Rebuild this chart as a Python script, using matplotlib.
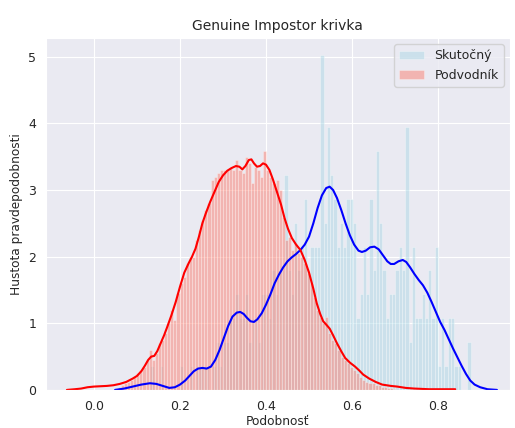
import numpy as np
import matplotlib
matplotlib.use("Agg")
import matplotlib.pyplot as plt
import seaborn as sns

# histogram of impostor (Podvodník) similarities, density per bin
red_start = 0.055
red_width = 0.0072
red_heights = [0.05, 0.08, 0.10, 0.12, 0.15, 0.20, 0.25, 0.30, 0.35, 0.45,
               0.60, 0.45, 0.55, 0.70, 0.75, 0.85, 1.00, 1.20, 1.05, 1.45,
               1.60, 1.70, 1.90, 2.00, 2.00, 2.25, 2.40, 2.55, 2.70, 2.80,
               3.15, 3.20, 3.25, 3.30, 3.30, 3.30, 3.35, 3.30, 3.45, 3.30,
               3.25, 3.50, 3.40, 3.10, 3.35, 3.30, 3.20, 3.58, 3.30, 3.20,
               3.10, 3.15, 3.00, 2.60, 2.25, 2.30, 2.10, 2.20, 2.05, 2.00,
               1.90, 1.75, 1.60, 1.40, 1.20, 1.10, 1.00, 1.10, 0.85, 0.75,
               0.70, 0.60, 0.50, 0.45, 0.40, 0.35, 0.30, 0.25, 0.20, 0.15,
               0.12, 0.10, 0.10, 0.08, 0.07, 0.05, 0.05, 0.03, 0.03, 0.02]

# histogram of genuine (Skutočný) similarities, counts per bin
blue_start = 0.131
blue_width = 0.0076
blue_n = 367
blue_counts = [1, 0, 0, 1, 0, 0, 0, 0, 0, 1,
               0, 0, 1, 0, 1, 1, 1, 1, 0, 1,
               2, 1, 2, 2, 3, 3, 4, 3, 3, 4,
               2, 3, 3, 2, 4, 4, 3, 5, 4, 5,
               5, 9, 5, 4, 7, 5, 6, 8, 5, 6,
               6, 6, 14, 7, 11, 9, 8, 6, 7, 6,
               8, 8, 7, 3, 4, 6, 4, 8, 5, 10,
               7, 5, 3, 4, 4, 5, 6, 5, 11, 2,
               6, 3, 3, 4, 3, 5, 3, 6, 1, 3,
               1, 3, 3, 1, 1, 0, 0, 2]

# kde curves
red_kde_x = [-0.063, -0.045, -0.030, -0.015, 0.0, 0.015, 0.030, 0.045, 0.060, 0.075,
             0.090, 0.100, 0.110, 0.118, 0.126, 0.133, 0.140, 0.147, 0.155, 0.163,
             0.170, 0.180, 0.190, 0.200, 0.210, 0.220, 0.228, 0.236, 0.244, 0.252,
             0.260, 0.270, 0.280, 0.290, 0.300, 0.310, 0.320, 0.330, 0.338, 0.345,
             0.352, 0.360, 0.366, 0.372, 0.379, 0.386, 0.393, 0.400, 0.408, 0.416,
             0.425, 0.435, 0.443, 0.451, 0.460, 0.470, 0.480, 0.490, 0.500, 0.510,
             0.518, 0.526, 0.533, 0.540, 0.548, 0.556, 0.565, 0.575, 0.584, 0.595,
             0.607, 0.617, 0.626, 0.640, 0.655, 0.670, 0.690, 0.705, 0.725, 0.745,
             0.780, 0.840]
red_kde_y = [0.0, 0.01, 0.02, 0.04, 0.05, 0.055, 0.06, 0.07, 0.09, 0.12,
             0.17, 0.21, 0.28, 0.36, 0.45, 0.50, 0.51, 0.58, 0.70, 0.82,
             0.94, 1.12, 1.32, 1.55, 1.76, 1.90, 2.00, 2.12, 2.30, 2.50,
             2.65, 2.82, 2.97, 3.12, 3.22, 3.29, 3.33, 3.36, 3.35, 3.31,
             3.36, 3.45, 3.46, 3.40, 3.35, 3.36, 3.40, 3.38, 3.30, 3.16,
             2.98, 2.78, 2.58, 2.42, 2.28, 2.18, 2.10, 1.95, 1.76, 1.52,
             1.30, 1.14, 1.03, 0.98, 0.92, 0.82, 0.70, 0.58, 0.48, 0.41,
             0.35, 0.29, 0.23, 0.17, 0.12, 0.08, 0.06, 0.05, 0.03, 0.02,
             0.01, 0.01]

blue_kde_x = [0.049, 0.070, 0.090, 0.110, 0.130, 0.145, 0.160, 0.175, 0.188, 0.200,
              0.212, 0.222, 0.232, 0.242, 0.252, 0.262, 0.272, 0.282, 0.292, 0.302,
              0.312, 0.322, 0.332, 0.340, 0.348, 0.356, 0.364, 0.372, 0.380, 0.390,
              0.400, 0.410, 0.420, 0.430, 0.440, 0.450, 0.460, 0.470, 0.480, 0.490,
              0.500, 0.510, 0.520, 0.530, 0.540, 0.548, 0.556, 0.565, 0.575, 0.585,
              0.595, 0.605, 0.615, 0.623, 0.632, 0.642, 0.652, 0.662, 0.672, 0.682,
              0.690, 0.698, 0.708, 0.718, 0.726, 0.735, 0.745, 0.755, 0.765, 0.775,
              0.785, 0.795, 0.805, 0.815, 0.825, 0.835, 0.845, 0.855, 0.865, 0.875,
              0.885, 0.898, 0.915, 0.937]
blue_kde_y = [0.0, 0.02, 0.05, 0.08, 0.10, 0.09, 0.06, 0.03, 0.04, 0.08,
              0.14, 0.21, 0.28, 0.32, 0.33, 0.32, 0.35, 0.45, 0.60, 0.78,
              0.96, 1.10, 1.16, 1.17, 1.14, 1.08, 1.03, 1.02, 1.06, 1.15,
              1.28, 1.43, 1.60, 1.73, 1.84, 1.93, 1.99, 2.04, 2.10, 2.18,
              2.30, 2.50, 2.73, 2.92, 3.03, 3.05, 3.00, 2.88, 2.70, 2.50,
              2.32, 2.18, 2.09, 2.07, 2.09, 2.14, 2.15, 2.11, 2.02, 1.93,
              1.89, 1.89, 1.93, 1.95, 1.92, 1.84, 1.74, 1.65, 1.57, 1.46,
              1.32, 1.17, 1.02, 0.90, 0.76, 0.62, 0.49, 0.36, 0.24, 0.14,
              0.08, 0.04, 0.01, 0.0]

sns.set_style("darkgrid")

fig = plt.figure(figsize=(5.15, 4.28), dpi=100)
ax = fig.add_axes([0.089, 0.089, 0.901, 0.822])

blue_left = blue_start + blue_width * np.arange(len(blue_counts))
blue_heights = np.array(blue_counts) / (blue_n * blue_width)
ax.bar(blue_left, blue_heights, width=blue_width, align='edge',
       color='lightblue', alpha=0.5, edgecolor='white', linewidth=0.4,
       label='Skutočný')
ax.plot(blue_kde_x, blue_kde_y, color='blue', lw=1.5)

red_left = red_start + red_width * np.arange(len(red_heights))
ax.bar(red_left, red_heights, width=red_width, align='edge',
       color='salmon', alpha=0.5, edgecolor='white', linewidth=0.4,
       label='Podvodník')
ax.plot(red_kde_x, red_kde_y, color='red', lw=1.5)

ax.set_xlim(-0.112, 0.967)
ax.set_ylim(0, 5.28)
ax.set_xticks([0.0, 0.2, 0.4, 0.6, 0.8])
ax.set_yticks([0, 1, 2, 3, 4, 5])
ax.tick_params(labelsize=9, colors='.15')
ax.set_title('Genuine Impostor krivka', fontsize=10, color='.15')
ax.set_xlabel('Podobnosť', fontsize=8.7, color='.15', labelpad=2)
ax.set_ylabel('Hustota pravdepodobnosti', fontsize=8.7, color='.15')
ax.legend(loc='upper right', fontsize=9)

fig.savefig('out.png', dpi=100)
